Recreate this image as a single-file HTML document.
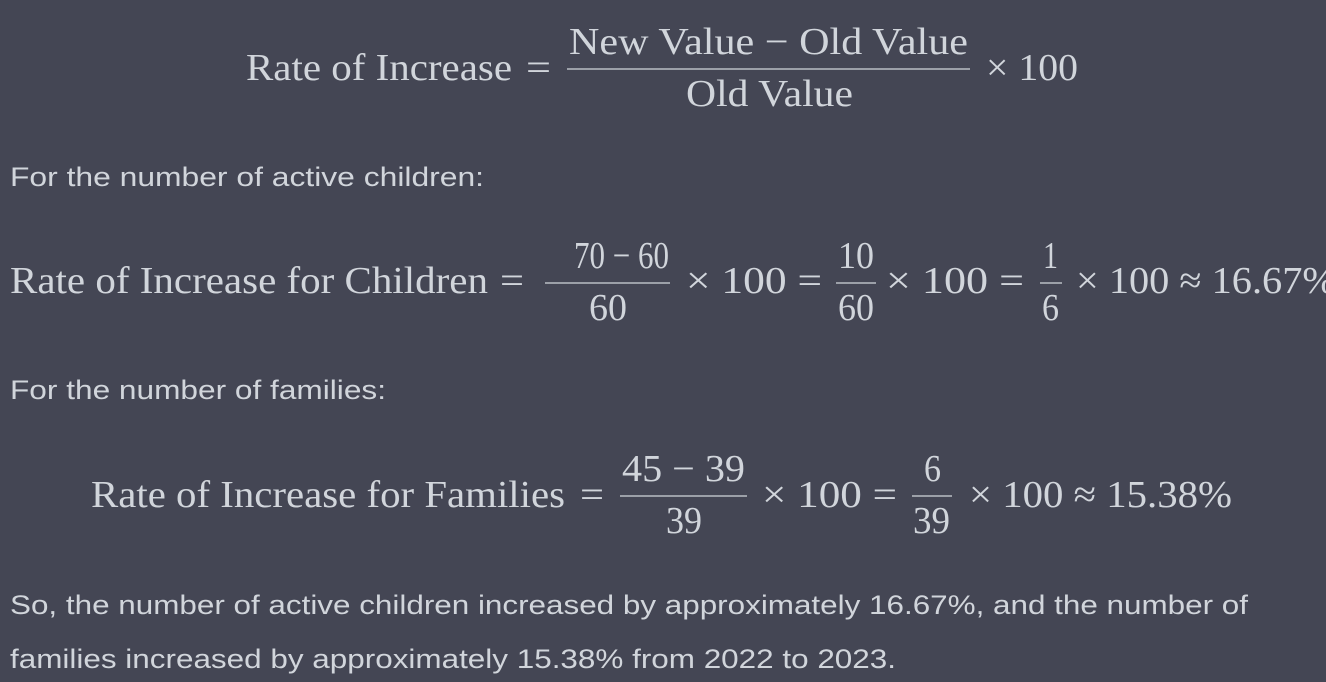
<!DOCTYPE html>
<html><head><meta charset="utf-8"><style>
html,body{margin:0;padding:0;background:#444654;}
svg{display:block}
.m{font-family:"Liberation Serif",serif;font-size:38px;fill:#d1d5db}
.s{font-family:"Liberation Sans",sans-serif;font-size:27px;fill:#d1d5db}
line{stroke:#d1d5db;stroke-width:1.3}
</style></head><body>
<svg width="1326" height="682" xmlns="http://www.w3.org/2000/svg">
<rect width="1326" height="682" fill="#444654"/>
<!-- Line 1 -->
<text class="m" x="246" y="80" textLength="266" lengthAdjust="spacingAndGlyphs">Rate of Increase</text>
<text class="m" x="526" y="80" textLength="25" lengthAdjust="spacingAndGlyphs">=</text>
<text class="m" x="569" y="54" textLength="399" lengthAdjust="spacingAndGlyphs">New Value − Old Value</text>
<line x1="567" y1="69" x2="970" y2="69"/>
<text class="m" x="686" y="106" textLength="167" lengthAdjust="spacingAndGlyphs">Old Value</text>
<text class="m" x="986" y="80" textLength="92" lengthAdjust="spacingAndGlyphs">× 100</text>
<text class="s" x="10" y="186" textLength="474" lengthAdjust="spacingAndGlyphs">For the number of active children:</text>
<!-- Line 2 -->
<text class="m" x="10" y="293" textLength="478" lengthAdjust="spacingAndGlyphs">Rate of Increase for Children</text>
<text class="m" x="500" y="293" textLength="24" lengthAdjust="spacingAndGlyphs">=</text>
<text class="m" x="574" y="268" textLength="95" lengthAdjust="spacingAndGlyphs">70 − 60</text>
<line x1="545" y1="283" x2="670" y2="283"/>
<text class="m" x="589" y="320" textLength="38" lengthAdjust="spacingAndGlyphs">60</text>
<text class="m" x="686" y="293" textLength="136" lengthAdjust="spacingAndGlyphs">× 100 =</text>
<text class="m" x="838" y="268" textLength="36" lengthAdjust="spacingAndGlyphs">10</text>
<line x1="836" y1="283" x2="876" y2="283"/>
<text class="m" x="838" y="320" textLength="36" lengthAdjust="spacingAndGlyphs">60</text>
<text class="m" x="886" y="293" textLength="138" lengthAdjust="spacingAndGlyphs">× 100 =</text>
<text class="m" x="1043" y="268" textLength="15" lengthAdjust="spacingAndGlyphs">1</text>
<line x1="1040" y1="283" x2="1062" y2="283"/>
<text class="m" x="1042" y="320" textLength="17" lengthAdjust="spacingAndGlyphs">6</text>
<text class="m" x="1076" y="293" textLength="260" lengthAdjust="spacingAndGlyphs">× 100 ≈ 16.67%</text>
<text class="s" x="10" y="399" textLength="376" lengthAdjust="spacingAndGlyphs">For the number of families:</text>
<!-- Line 3 -->
<text class="m" x="91" y="507" textLength="474" lengthAdjust="spacingAndGlyphs">Rate of Increase for Families</text>
<text class="m" x="580" y="507" textLength="24" lengthAdjust="spacingAndGlyphs">=</text>
<text class="m" x="622" y="481" textLength="123" lengthAdjust="spacingAndGlyphs">45 − 39</text>
<line x1="620" y1="496" x2="747" y2="496"/>
<text class="m" x="666" y="533" textLength="36" lengthAdjust="spacingAndGlyphs">39</text>
<text class="m" x="762" y="507" textLength="135" lengthAdjust="spacingAndGlyphs">× 100 =</text>
<text class="m" x="924" y="481" textLength="17" lengthAdjust="spacingAndGlyphs">6</text>
<line x1="912" y1="496" x2="952" y2="496"/>
<text class="m" x="913" y="533" textLength="37" lengthAdjust="spacingAndGlyphs">39</text>
<text class="m" x="969" y="507" textLength="263" lengthAdjust="spacingAndGlyphs">× 100 ≈ 15.38%</text>
<!-- Paragraph -->
<text class="s" x="10" y="614" textLength="1238" lengthAdjust="spacingAndGlyphs">So, the number of active children increased by approximately 16.67%, and the number of</text>
<text class="s" x="10" y="668" textLength="886" lengthAdjust="spacingAndGlyphs">families increased by approximately 15.38% from 2022 to 2023.</text>
</svg>
</body></html>
